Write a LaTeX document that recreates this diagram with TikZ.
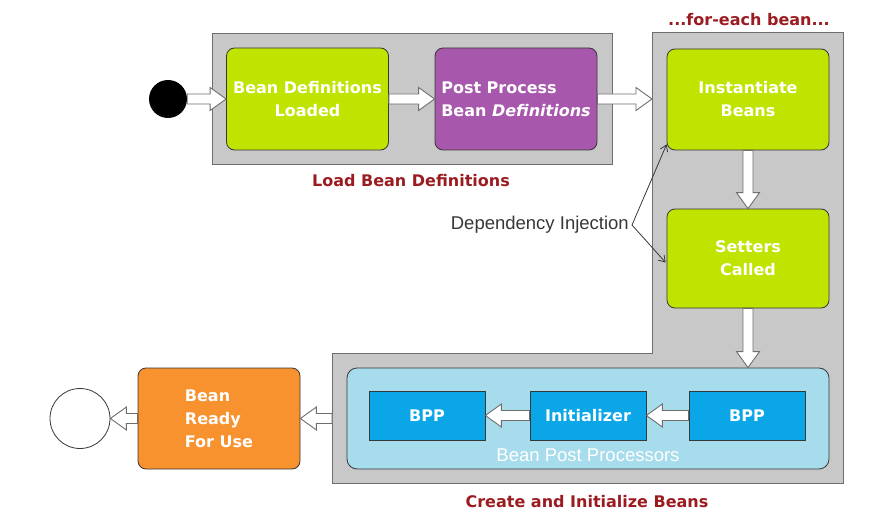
\documentclass[tikz,border=0pt]{standalone}
\usepackage{fontspec}
\setmainfont{DejaVu Sans}
\newfontfamily\lightfont{Liberation Sans}
\usetikzlibrary{calc,arrows.meta}

\definecolor{lime}{RGB}{192,228,0}
\definecolor{plum}{RGB}{168,88,172}
\definecolor{tangerine}{RGB}{247,146,46}
\definecolor{paleblue}{RGB}{166,220,236}
\definecolor{bppblue}{RGB}{10,166,232}
\definecolor{regiongray}{RGB}{200,200,200}
\definecolor{regionline}{RGB}{110,110,110}
\definecolor{boxline}{RGB}{55,55,55}
\definecolor{titlered}{RGB}{155,28,32}

\newcommand\boxfont{\fontsize{16}{23}\selectfont\bfseries}
\newcommand\thinfont{\fontsize{18.5}{22}\selectfont\lightfont}

\begin{document}
\begin{tikzpicture}[x=1pt,y=-1pt,
    region/.style={draw=regionline,fill=regiongray,line width=1pt},
    state/.style={draw=boxline,line width=0.8pt,rounded corners=8pt,text=white,font=\boxfont,align=center,minimum width=162pt,minimum height=101pt,inner sep=4pt},
    bppbox/.style={draw=boxline,line width=0.8pt,fill=bppblue,text=white,font=\boxfont,minimum width=116pt,minimum height=49pt},
    title/.style={text=titlered,font=\boxfont},
    hollow/.style={draw=regionline,fill=white,line width=0.9pt,
      to path={($(\tikztotarget)!16pt!(\tikztostart)$) coordinate (hb)
        ($(\tikztostart)!5pt!90:(\tikztotarget)$) -- ($(hb)!5pt!90:(\tikztotarget)$)
        -- ($(hb)!11.5pt!90:(\tikztotarget)$) -- (\tikztotarget)
        -- ($(hb)!11.5pt!-90:(\tikztotarget)$) -- ($(hb)!5pt!-90:(\tikztotarget)$)
        -- ($(\tikztostart)!5pt!-90:(\tikztotarget)$) -- cycle}},
    dep/.style={draw=boxline,line width=0.8pt,-{Straight Barb[length=6pt,width=8pt]}}]
  \useasboundingbox (0,0) rectangle (894,524);

  % gray regions
  \node at (412,99) [region,minimum width=400pt,minimum height=130pt] (load) {};
  \draw[region] (652,33) coordinate (reg) -- (843,33) -- (843,483) -- (332,483)
    -- (332,353) coordinate (regl) -- (652,353) -- cycle;

  % load bean definitions
  \node at (168,99) [circle,fill=black,minimum size=38pt] (start) {};
  \node at (307.5,99) [state,fill=lime,minimum height=102pt] (loaded) {Bean Definitions\\Loaded};
  \node at (516,99) [state,fill=plum,minimum height=102pt,align=left] (post) {Post Process\\Bean \textit{Definitions}};
  \node at (411,181) [title] (loadtitle) {Load Bean Definitions};

  % for each bean
  \node at (749,20) [title] (eachtitle) {...for-each bean...};
  \node at (748,99.5) [state,fill=lime] (inst) {Instantiate\\Beans};
  \node at (748,258.5) [state,fill=lime,minimum height=99pt] (setters) {Setters\\Called};
  \node at (632,225) [anchor=east,inner sep=3pt,text=boxline,font=\thinfont] (depinj) {Dependency Injection};

  % bean post processors
  \node at (588,418.5) [draw=boxline,line width=0.8pt,fill=paleblue,rounded corners=10pt,minimum width=482pt,minimum height=101pt] (bpp) {};
  \node at (588,455) [text=white,font=\thinfont] (bpplabel) {Bean Post Processors};
  \node at (427,415.5) [bppbox] (bppl) {BPP};
  \node at (588,415.5) [bppbox] (init) {Initializer};
  \node at (747,415.5) [bppbox] (bppr) {BPP};
  \node at (587,502) [title] (createtitle) {Create and Initialize Beans};

  % ready
  \node at (219,418.5) [state,fill=tangerine,align=left] (ready) {Bean\\Ready\\For Use};
  \node at (80,418.5) [circle,draw=boxline,line width=0.8pt,fill=white,minimum size=60pt] (finish) {};

  % arrows
  \draw[hollow] (start.east) to (loaded.west);
  \draw[hollow] (loaded.east) to (post.west);
  \draw[hollow] (post.east) to (post.east -| reg);
  \draw[hollow] (inst.south) to (setters.north);
  \draw[hollow] (setters.south) to (setters.south |- bpp.north);
  \draw[hollow] (bppr.west) to (init.east);
  \draw[hollow] (init.west) to (bppl.east);
  \draw[hollow] (ready.east -| regl) to (ready.east);
  \draw[hollow] (ready.west) to (finish.east);
  \draw[dep] (depinj.east) -- ($(inst.south west)+(0,-6)$);
  \draw[dep] (depinj.east) -- ($(setters.west)+(-1,4)$);
\end{tikzpicture}
\end{document}
